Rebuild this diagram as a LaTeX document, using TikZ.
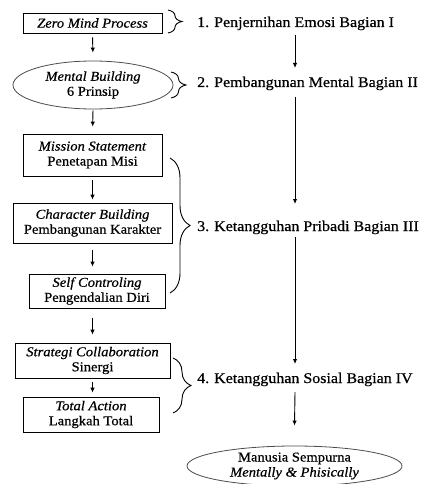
\documentclass[tikz,border=0pt]{standalone}
\usepackage{fontspec}
\setmainfont{Liberation Serif}[FakeStretch=1.08,FakeBold=0.6]
\usetikzlibrary{shapes.geometric,decorations.pathreplacing,arrows.meta,calc}
\begin{document}
\begin{tikzpicture}[x=1pt,y=-1pt,
  boxn/.style={draw,line width=0.8pt,rectangle,inner sep=0pt,align=center,font=\fontsize{13.5}{15}\selectfont},
  elln/.style={draw=black!70,line width=0.8pt,ellipse,inner sep=0pt,align=center,font=\fontsize{13.5}{15}\selectfont},
  lab/.style={anchor=base west,inner sep=0pt,font=\fontsize{14.8}{16}\selectfont},
  arr/.style={-{Latex[length=5pt,width=4.5pt]},line width=0.9pt},
  brc/.style={decorate,decoration={brace,amplitude=#1},line width=0.9pt}]
\useasboundingbox (0,0) rectangle (421,484);

% left column
\node[boxn,minimum width=139pt,minimum height=20pt] (z1) at (92.5,23) {\textit{Zero Mind Process}};
\node[elln,minimum width=160pt,minimum height=48pt] (e1) at (93,85) {\textit{Mental Building}\\6 Prinsip};
\node[boxn,minimum width=139pt,minimum height=42pt] (m) at (92.5,155) {\textit{Mission Statement}\\Penetapan Misi};
\node[boxn,minimum width=159pt,minimum height=40pt] (c) at (92.5,223) {\textit{Character Building}\\Pembangunan Karakter};
\node[boxn,minimum width=136pt,minimum height=34pt] (s) at (97,291) {\textit{Self Controling}\\Pengendalian Diri};
\node[boxn,minimum width=155pt,minimum height=35pt] (sc) at (92.5,360.5) {\textit{Strategi Collaboration}\\Sinergi};
\node[boxn,minimum width=136pt,minimum height=35pt] (ta) at (91,414.5) {\textit{Total Action}\\Langkah Total};

\draw[arr,shorten <=4pt,shorten >=8pt] (z1.south) -- (e1.north);
\draw[arr,shorten <=1pt,shorten >=7pt] (e1.south) -- (m.north);
\draw[arr,shorten <=4pt,shorten >=3pt] (m.south) -- (c.north);
\draw[arr,shorten <=7pt,shorten >=7pt] (c.south) -- (c.south |- s.north);
\draw[arr,shorten <=10pt,shorten >=8pt] (s.south -| sc.north) -- (sc.north);
\draw[arr,shorten <=4pt,shorten >=4pt] (sc.south) -- (sc.south |- ta.north);

% right column
\coordinate (ax) at (295,0);
\node[lab] (t1) at (197,27) {1.\hspace{5pt}Penjernihan Emosi Bagian I};
\node[lab] (t2) at (197,87) {2.\hspace{5pt}Pembangunan Mental Bagian II};
\node[lab] (t3) at (197,231) {3.\hspace{5pt}Ketangguhan Pribadi Bagian III};
\node[lab] (t4) at (197,383) {4.\hspace{5pt}Ketangguhan Sosial Bagian IV};
\node[elln,minimum width=215pt,minimum height=40pt] (fe) at (294.5,466) {Manusia Sempurna\\\textit{Mentally \& Phisically}};

\draw[arr] ($(t1.base -| ax)+(0,8)$) -- ($(t2.base -| ax)+(0,-19)$);
\draw[arr] ($(t2.base -| ax)+(0,10)$) -- ($(t3.base -| ax)+(0,-27)$);
\draw[arr] ($(t3.base -| ax)+(0,6)$) -- ($(t4.base -| ax)+(0,-19)$);
\draw[arr] ($(t4.base -| ax)+(0,9)$) -- ($(fe.north)+(0,-20)$);

% braces
\draw[brc=14pt] (168,10) -- (168,33);
\draw[brc=15pt] (171,72) -- (171,98);
\draw[brc=20pt] (170,158) -- (170,293);
\draw[brc=18pt] (173,358) -- (173,413);
\end{tikzpicture}
\end{document}
